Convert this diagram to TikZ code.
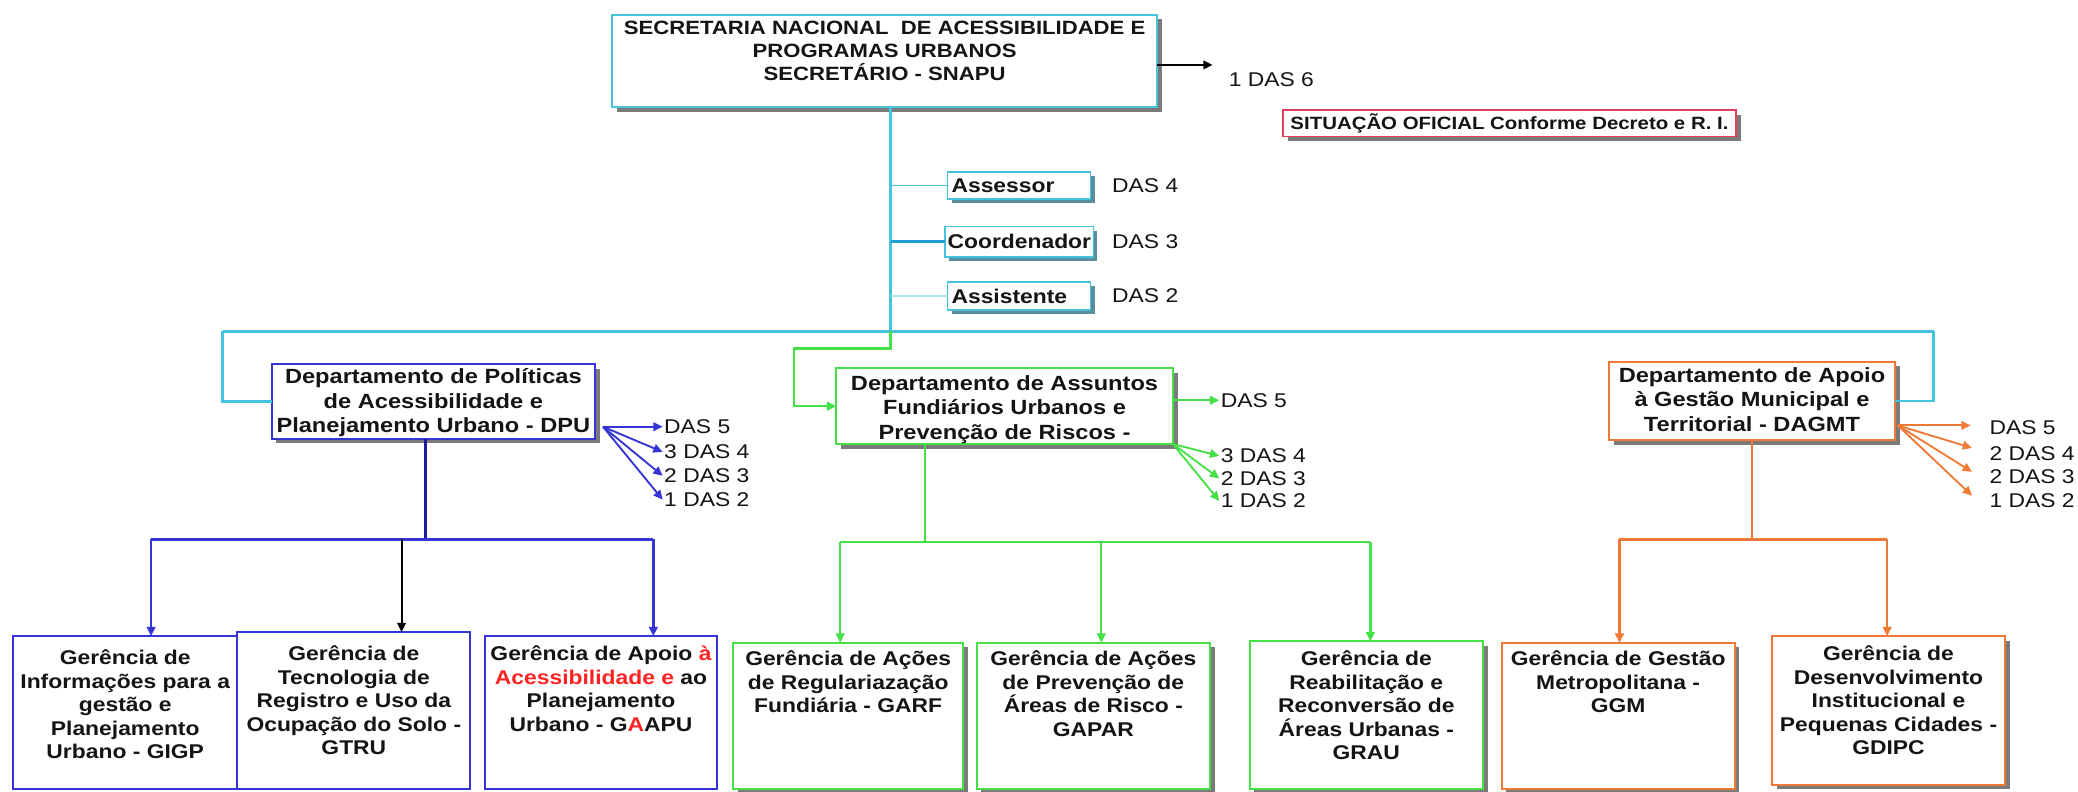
\documentclass[tikz,border=0pt]{standalone}
\usepackage{fontspec}
\setmainfont{Liberation Sans}[FakeStretch=1.15]
\usetikzlibrary{arrows.meta,shadows}
\definecolor{cyanc}{HTML}{45C3DD}
\definecolor{cyandk}{HTML}{1E9FCF}
\definecolor{cyanlt}{HTML}{A8E2F0}
\definecolor{bluec}{HTML}{3535D5}
\definecolor{navyc}{HTML}{1A1A9A}
\definecolor{greenc}{HTML}{45E045}
\definecolor{orangec}{HTML}{EE7A36}
\definecolor{redtx}{HTML}{FF2222}
\definecolor{sitred}{HTML}{E0405A}
\definecolor{shadowc}{HTML}{7A7A7A}
\definecolor{shadowcy}{HTML}{5A8E9C}
\definecolor{textc}{HTML}{141414}
\newcommand{\bt}[4]{\parbox[c][#2][t]{#1}{\centering\vspace*{#3}\strut#4\par}}
\newcommand{\sbt}[3]{\parbox[c][#2][c]{#1}{\hspace*{3pt}#3}}
\newcommand{\fTop}{\fontsize{14.5}{17.5}\selectfont\bfseries}
\newcommand{\fDep}{\fontsize{15.5}{18.5}\selectfont\bfseries}
\newcommand{\fGer}{\fontsize{15}{17.75}\selectfont\bfseries}
\newcommand{\fSmall}{\fontsize{15}{18}\selectfont\bfseries}
\newcommand{\fDas}{\fontsize{15}{18}\selectfont}
\newcommand{\fSit}{\fontsize{13.4}{16}\selectfont\bfseries}
\tikzset{
 boxbase/.style={draw, fill=white, inner sep=0pt, outer sep=0pt, line width=1.5pt, text=textc, anchor=north west},
 shad/.style={drop shadow={shadow xshift=3.5pt, shadow yshift=-3.5pt, fill=shadowc, opacity=1}},
 shadcy/.style={drop shadow={shadow xshift=3pt, shadow yshift=-3pt, fill=shadowcy, opacity=1}},
 topbox/.style={boxbase, draw=cyanc, font=\fTop, shad},
 sitbox/.style={boxbase, draw=sitred, line width=1.3pt, font=\fSit, shad},
 smallbox/.style={boxbase, draw=cyanc, line width=1.2pt, font=\fSmall, shadcy},
 depblue/.style={boxbase, draw=bluec, font=\fDep, shad},
 depgreen/.style={boxbase, draw=greenc, font=\fDep, shad},
 deporange/.style={boxbase, draw=orangec, font=\fDep, shad},
 gerblue/.style={boxbase, draw=bluec, font=\fGer},
 gergreen/.style={boxbase, draw=greenc, font=\fGer, shad},
 gerorange/.style={boxbase, draw=orangec, font=\fGer, shad},
 dastext/.style={font=\fDas, text=textc, inner sep=1pt, anchor=west},
 arr/.style={-{Triangle[length=7pt,width=6.5pt]}},
 cyanline/.style={draw=cyanc, line width=1.8pt},
 greenline/.style={draw=greenc, line width=1.8pt},
 blueline/.style={draw=bluec, line width=1.8pt},
 navyline/.style={draw=navyc, line width=2.2pt},
 blackline/.style={draw=black, line width=1.5pt},
 orangeline/.style={draw=orangec, line width=1.8pt},
}
\begin{document}
\begin{tikzpicture}[x=1pt,y=-1pt]
\useasboundingbox[fill=white] (0,0) rectangle (1568,597);

% ---- top ----
\node[topbox] (snapu) at (462,11) {\bt{411pt}{70pt}{2.5pt}{SECRETARIA NACIONAL\ \ DE ACESSIBILIDADE E\\PROGRAMAS URBANOS\\SECRETÁRIO - SNAPU}};
\coordinate (d6a) at (915,49);
\draw[blackline,arr] (snapu.east |- d6a) -- (d6a);
\node[dastext] (das6) at (926,60) {1 DAS 6};
\node[sitbox] (sit) at (968,83) {\parbox[c][20pt][c]{342pt}{\centering SITUAÇÃO OFICIAL Conforme Decreto e R. I.}};

% ---- staff ----
\node[smallbox] (ass) at (715,130) {\sbt{108pt}{20pt}{Assessor}};
\node[smallbox] (coo) at (713,171) {\parbox[c][23pt][c]{112pt}{\hspace*{2pt}Coordenador}};
\node[smallbox] (ast) at (715,213) {\sbt{108pt}{21pt}{Assistente}};
\node[dastext] (das4s) at (838,140) {DAS 4};
\node[dastext] (das3s) at (838,182) {DAS 3};
\node[dastext] (das2s) at (838,223) {DAS 2};

\coordinate (tr) at (672,250);
\draw[cyanline] (snapu.south -| tr) -- (tr);
\draw[draw=cyanc, line width=1.2pt] (ass.west -| tr) -- (ass.west);
\draw[draw=cyandk, line width=2.4pt] (coo.west -| tr) -- (coo.west);
\draw[draw=cyanlt, line width=1.5pt] (ast.west -| tr) -- (ast.west);

% ---- departments ----
\node[depblue] (dpu) at (205,275) {\bt{244pt}{56pt}{1.6pt}{Departamento de Políticas\\de Acessibilidade e\\Planejamento Urbano - DPU}};
\node[depgreen] (dfu) at (631,278) {\bt{254pt}{57pt}{3.6pt}{Departamento de Assuntos\\Fundiários Urbanos e\\Prevenção de Riscos -}};
\node[deporange] (dag) at (1214,273) {\bt{216pt}{59pt}{2.6pt}{Departamento de Apoio\\à Gestão Municipal e\\Territorial - DAGMT}};

\coordinate (cl) at (168,250);
\coordinate (cr) at (1459,250);
\draw[cyanline] (cl) -- (cr);
\draw[cyanline] (cl) |- (dpu.west);
\draw[cyanline] (cr) |- (dag.east);
\coordinate (gj) at (599,263);
\draw[greenline,arr] (tr) |- (gj) |- (dfu.west);

% ---- DAS lists ----
\coordinate (fo1) at (455,322);
\node[dastext] (b5) at (500,322) {DAS 5};
\node[dastext] (b4) at (500,341) {3 DAS 4};
\node[dastext] (b3) at (500,359) {2 DAS 3};
\node[dastext] (b2) at (500,377) {1 DAS 2};
\foreach \t in {b5,b4,b3,b2} \draw[draw=bluec, line width=1.4pt, arr] (fo1) -- (\t.west);

\node[dastext] (g5) at (920,302) {DAS 5};
\node[dastext] (g4) at (920,344) {3 DAS 4};
\node[dastext] (g3) at (920,361) {2 DAS 3};
\node[dastext] (g2) at (920,378) {1 DAS 2};
\draw[draw=greenc, line width=1.4pt, arr] (dfu.east |- g5.west) -- (g5.west);
\foreach \t in {g4,g3,g2} \draw[draw=greenc, line width=1.4pt, arr] (dfu.south east) -- (\t.west);

\coordinate (fo3) at (1432,321);
\node[dastext] (o5) at (1500,323) {DAS 5};
\node[dastext] (o4) at (1500,342) {2 DAS 4};
\node[dastext] (o3) at (1500,360) {2 DAS 3};
\node[dastext] (o2) at (1500,378) {1 DAS 2};
\draw[draw=orangec, line width=1.4pt, arr] (fo3) -- (1487,321);
\foreach \t/\yy in {o4/338,o3/356,o2/374} \draw[draw=orangec, line width=1.4pt, arr] (fo3) -- ([xshift=-12pt]\t.west |- 0,\yy);

% ---- gerencias ----
\node[gerblue] (gigp) at (10,480) {\bt{169pt}{115pt}{9pt}{Gerência de\\Informações para a\\gestão e\\Planejamento\\Urbano - GIGP}};
\node[gerblue] (gtru) at (179,477) {\bt{176pt}{118pt}{9pt}{Gerência de\\Tecnologia de\\Registro e Uso da\\Ocupação do Solo -\\GTRU}};
\node[gerblue] (gaapu) at (366,480) {\bt{175pt}{115pt}{6pt}{Gerência de Apoio \textcolor{redtx}{à}\\\textcolor{redtx}{Acessibilidade e} ao\\Planejamento\\Urbano - G\textcolor{redtx}{A}APU}};
\node[gergreen] (garf) at (553,485) {\bt{174pt}{110pt}{5pt}{Gerência de Ações\\de Regulariazação\\Fundiária - GARF}};
\node[gergreen] (gapar) at (737,485) {\bt{176pt}{110pt}{5pt}{Gerência de Ações\\de Prevenção de\\Áreas de Risco -\\GAPAR}};
\node[gergreen] (grau) at (943,484) {\bt{176pt}{111pt}{6pt}{Gerência de\\Reabilitação e\\Reconversão de\\Áreas Urbanas -\\GRAU}};
\node[gerorange] (ggm) at (1133,485) {\bt{176pt}{110pt}{5pt}{Gerência de Gestão\\Metropolitana -\\GGM}};
\node[gerorange] (gdipc) at (1337,480) {\bt{176pt}{112pt}{6pt}{Gerência de\\Desenvolvimento\\Institucional e\\Pequenas Cidades -\\GDIPC}};

% ---- lower connectors ----
\coordinate (jb) at (321,407);
\coordinate (jb1) at (114,407);
\coordinate (jb2) at (303,407);
\coordinate (jb3) at (493,407);
\draw[navyline] (dpu.south -| jb) -- (jb);
\draw[blueline] (jb1) -- (jb3);
\draw[blueline,arr] (jb1) -- (jb1 |- gigp.north);
\draw[blackline,arr] (jb2) -- (jb2 |- gtru.north);
\draw[blueline,arr] (jb3) -- (jb3 |- gaapu.north);

\coordinate (jg) at (698,409);
\coordinate (jg1) at (634,409);
\coordinate (jg2) at (831,409);
\coordinate (jg3) at (1034,409);
\draw[greenline] (dfu.south -| jg) -- (jg);
\draw[greenline] (jg1) -- (jg3);
\draw[greenline,arr] (jg1) -- (jg1 |- garf.north);
\draw[greenline,arr] (jg2) -- (jg2 |- gapar.north);
\draw[greenline,arr] (jg3) -- (jg3 |- grau.north);

\coordinate (jo) at (1322,407);
\coordinate (jo1) at (1222,407);
\coordinate (jo2) at (1424,407);
\draw[orangeline] (dag.south -| jo) -- (jo);
\draw[orangeline] (jo1) -- (jo2);
\draw[orangeline,arr] (jo1) -- (jo1 |- ggm.north);
\draw[orangeline,arr] (jo2) -- (jo2 |- gdipc.north);
\end{tikzpicture}
\end{document}
